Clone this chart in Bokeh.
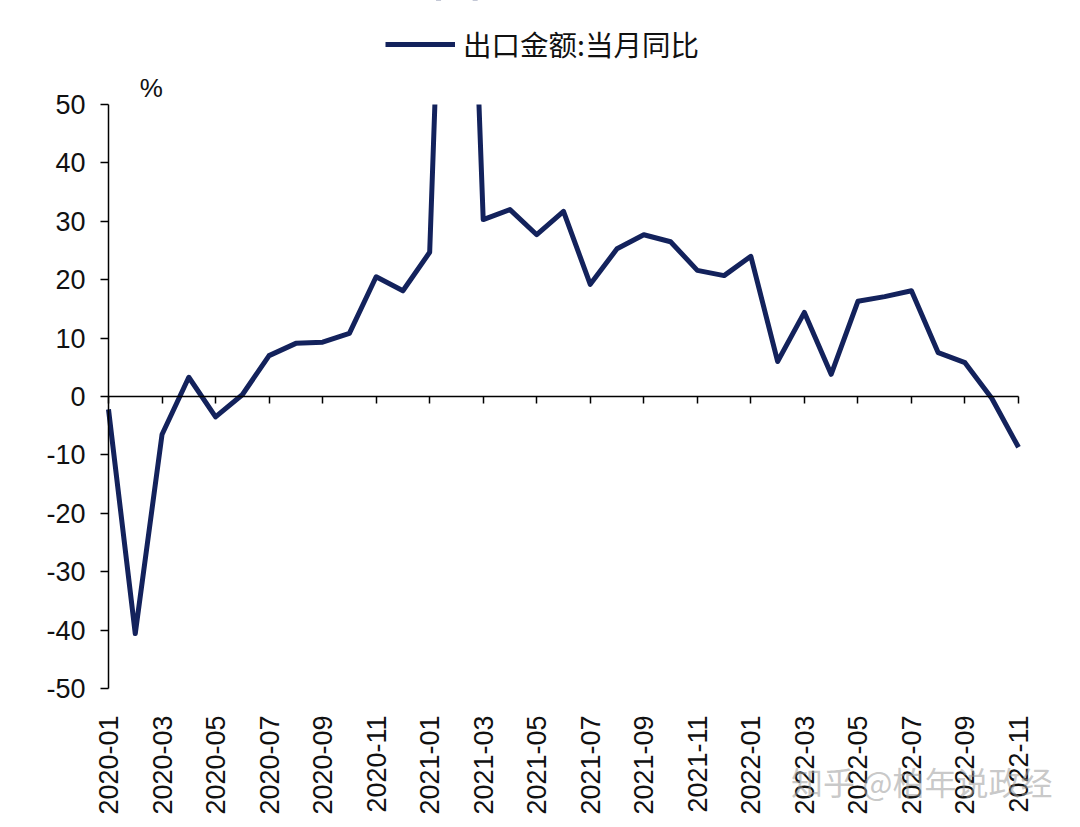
import math
from bokeh.plotting import figure
from bokeh.models import (FixedTicker, LinearAxis, Range1d, Label, BoxAnnotation,
                          Legend, LegendItem, ColumnDataSource)
from bokeh.embed import file_html
from bokeh.resources import INLINE

months = ["2020-01", "2020-02", "2020-03", "2020-04", "2020-05", "2020-06",
          "2020-07", "2020-08", "2020-09", "2020-10", "2020-11", "2020-12",
          "2021-01", "2021-02", "2021-03", "2021-04", "2021-05", "2021-06",
          "2021-07", "2021-08", "2021-09", "2021-10", "2021-11", "2021-12",
          "2022-01", "2022-02", "2022-03", "2022-04", "2022-05", "2022-06",
          "2022-07", "2022-08", "2022-09", "2022-10", "2022-11"]
export_yoy = [-2.2, -40.6, -6.5, 3.3, -3.5, 0.3,
              7.0, 9.1, 9.3, 10.8, 20.5, 18.1,
              24.7, 154.9, 30.3, 32.0, 27.7, 31.7,
              19.2, 25.3, 27.7, 26.5, 21.6, 20.7,
              24.0, 6.0, 14.4, 3.8, 16.3, 17.1,
              18.1, 7.5, 5.8, -0.3, -8.7]
series_name = "出口金额:当月同比"
unit_label = "%"
watermark = "知乎 @柏年说政经"
y_ticks = [-50, -40, -30, -20, -10, 0, 10, 20, 30, 40, 50]
tick_idx = list(range(0, len(months), 2))

LINE = "#13225c"
FONT = "Liberation Sans"
CJK = "Noto Sans CJK SC"

# layout (pixels)
W, H = 1072, 819
LEFT = 108            # pixel position of the first month / value axis
PLOT_W = 910          # width of the data area (x: first..last month)
PLOT_TOP, PLOT_BOT = 104, 688
Y_MIN, Y_MAX = -50, 50
n = len(months)
px_x = PLOT_W / (n - 1)
px_y = (PLOT_BOT - PLOT_TOP) / (Y_MAX - Y_MIN)
x_start = -LEFT / px_x
x_end = (W - LEFT) / px_x
y_top = Y_MAX + PLOT_TOP / px_y
y_bot = Y_MIN - (H - PLOT_BOT) / px_y

src = ColumnDataSource(dict(x=list(range(n)), y=export_yoy))

p = figure(width=W, height=H,
           min_border_left=0, min_border_right=0, min_border_top=0,
           min_border_bottom=0, x_axis_location=None, y_axis_location=None,
           x_range=Range1d(x_start, x_end), y_range=Range1d(y_bot, y_top),
           output_backend="svg", toolbar_location=None,
           background_fill_color="white", border_fill_color="white")
p.outline_line_color = None
p.grid.visible = False

# Value axis (at the first month)
yax = LinearAxis(fixed_location=0, bounds=(Y_MIN, Y_MAX),
                 ticker=FixedTicker(ticks=y_ticks))
yax.major_label_overrides = {v: str(v) for v in y_ticks}
yax.axis_line_color = "black"
yax.axis_line_width = 1.5
yax.major_tick_line_color = "black"
yax.major_tick_line_width = 1.5
yax.major_tick_out = 8
yax.major_tick_in = 0
yax.minor_tick_line_color = None
yax.major_label_text_font = FONT
yax.major_label_text_font_size = "27px"
yax.major_label_text_color = "#111111"
yax.major_label_standoff = 15
p.add_layout(yax, "left")

# Zero line axis with ticks
zax = LinearAxis(fixed_location=0, bounds=(0, n - 1),
                 ticker=FixedTicker(ticks=tick_idx))
zax.axis_line_color = "black"
zax.axis_line_width = 1.5
zax.major_tick_line_color = "black"
zax.major_tick_line_width = 1.5
zax.major_tick_out = 7
zax.major_tick_in = 0
zax.minor_tick_line_color = None
zax.major_label_text_font_size = "0px"
zax.major_label_text_color = None
p.add_layout(zax, "below")

# Month labels axis at bottom of the data area
lax = LinearAxis(fixed_location=Y_MIN, bounds=(0, n - 1),
                 ticker=FixedTicker(ticks=tick_idx))
lax.major_label_overrides = {i: months[i] for i in tick_idx}
lax.major_label_orientation = math.pi / 2
lax.axis_line_color = None
lax.major_tick_line_color = None
lax.minor_tick_line_color = None
lax.major_label_text_font = FONT
lax.major_label_text_font_size = "27px"
lax.major_label_text_color = "#111111"
lax.major_label_standoff = 21
p.add_layout(lax, "below")

r = p.line("x", "y", source=src, line_color=LINE, line_width=5,
           line_join="round", line_cap="butt")

# mask everything above the top of the value axis (clips the spike)
p.add_layout(BoxAnnotation(bottom=Y_MAX + 2 / px_y, top=y_top + 50,
                           left=0.05, right=x_end + 5,
                           fill_color="white", fill_alpha=1.0,
                           line_color="white", line_width=4, line_alpha=1.0))

legend = Legend(items=[LegendItem(label=series_name, renderers=[r])],
                location=(385, H - 64),
                orientation="horizontal",
                glyph_width=70, glyph_height=20, label_standoff=8,
                label_text_font=CJK, label_text_font_size="28.5px",
                label_text_color="#111111", border_line_color=None,
                background_fill_alpha=0, padding=0, margin=0)
p.add_layout(legend)

p.add_layout(Label(x=1.6, y=Y_MAX, y_offset=2, text=unit_label,
                   text_align="center", text_baseline="bottom",
                   text_font=FONT, text_font_size="26px",
                   text_color="#111111"))

p.add_layout(Label(x=25.5, y=-65.8, text=watermark, text_align="left",
                   text_baseline="middle", text_font=CJK,
                   text_font_size="32px", text_color="#9a9a9a",
                   text_alpha=0.55))

open("out.html", "w").write(file_html(p, INLINE))
